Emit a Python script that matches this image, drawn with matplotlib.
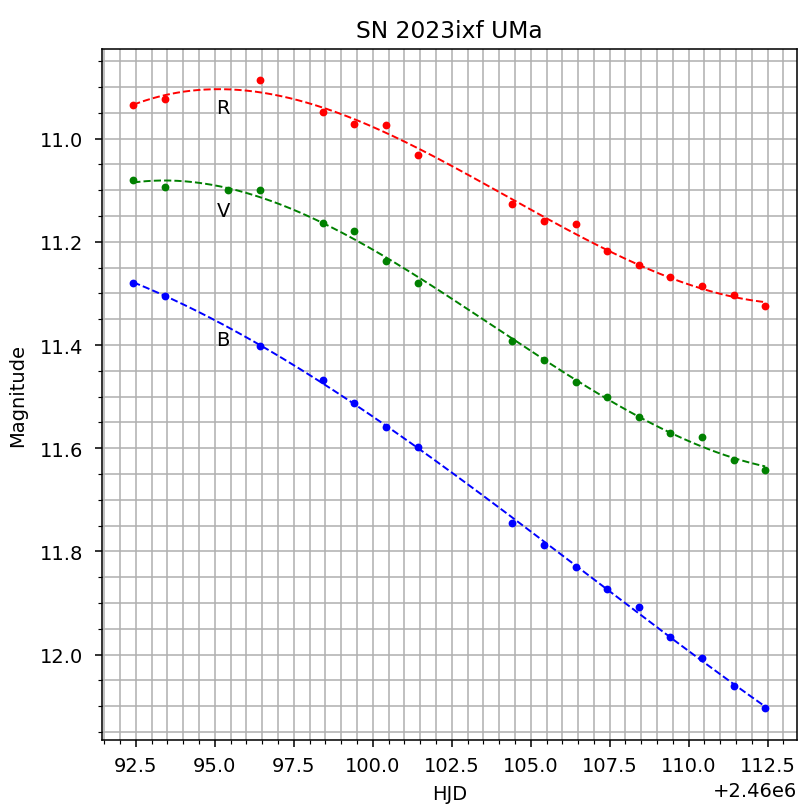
import matplotlib
matplotlib.use('Agg')
import matplotlib.pyplot as plt
import numpy as np
from matplotlib.ticker import MultipleLocator

# observation dates (HJD - 2460000)
days_rb = [92.42, 93.42, 96.42, 98.42, 99.42, 100.42, 101.42, 104.42, 105.42,
           106.42, 107.42, 108.42, 109.42, 110.42, 111.42, 112.42]
days_v = [92.42, 93.42, 95.42, 96.42, 98.42, 99.42, 100.42, 101.42, 104.42,
          105.42, 106.42, 107.42, 108.42, 109.42, 110.42, 111.42, 112.42]

# magnitudes per filter
mag_r = [10.934, 10.924, 10.887, 10.949, 10.971, 10.973, 11.031, 11.127, 11.160,
         11.166, 11.218, 11.245, 11.269, 11.286, 11.302, 11.325]
mag_v = [11.080, 11.093, 11.099, 11.099, 11.164, 11.179, 11.238, 11.280, 11.393,
         11.428, 11.471, 11.500, 11.539, 11.571, 11.578, 11.623, 11.643]
mag_b = [11.280, 11.304, 11.401, 11.467, 11.512, 11.559, 11.598, 11.744, 11.787,
         11.830, 11.872, 11.907, 11.966, 12.007, 12.061, 12.104]

# filter label positions (day, magnitude)
labels = [('R', 95.05, 10.95), ('V', 95.05, 11.15), ('B', 95.05, 11.40)]

HJD0 = 2460000.0


def plot_band(ax, days, mags, color, deg=3):
    """plot points of one filter and a polynomial fit through them"""
    x = np.array(days) + HJD0
    y = np.array(mags)
    coef = np.polyfit(x - x.mean(), y, deg)
    xx = np.linspace(x.min(), x.max(), 300)
    ax.plot(xx, np.polyval(coef, xx - x.mean()), '--', color=color, linewidth=1)
    ax.plot(x, y, '.', color=color)


def main():
    fig = plt.figure(figsize=(5.7, 5.757), dpi=140)
    ax = fig.add_axes([0.1274, 0.081, 0.871, 0.857])

    plot_band(ax, days_rb, mag_r, 'red')
    plot_band(ax, days_v, mag_v, 'green')
    plot_band(ax, days_rb, mag_b, 'blue')

    for name, d, m in labels:
        ax.text(d + HJD0, m, name)

    ax.invert_yaxis()
    ax.xaxis.set_minor_locator(MultipleLocator(0.5))
    ax.yaxis.set_minor_locator(MultipleLocator(0.05))
    ax.tick_params(axis='x', pad=5)
    ax.tick_params(axis='y', pad=6)
    ax.grid(True, which='both')

    ax.set_title('SN 2023ixf UMa')
    ax.set_xlabel('HJD', labelpad=4.5)
    ax.set_ylabel('Magnitude', labelpad=6.5)

    fig.savefig('out.png', dpi=140)


if __name__ == '__main__':
    main()
